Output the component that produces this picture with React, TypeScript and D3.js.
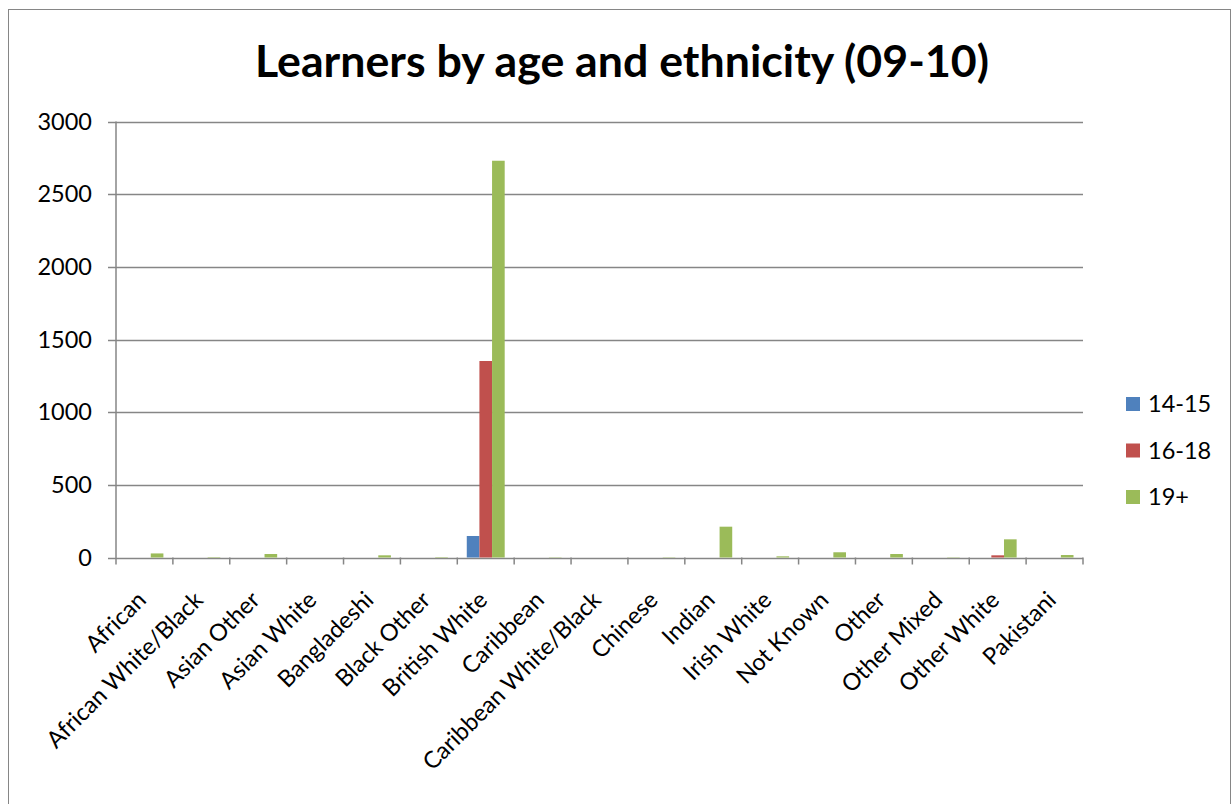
import React from "react";
import * as d3 from "d3";

const categories = [
  "African", "African White/Black", "Asian Other", "Asian White", "Bangladeshi",
  "Black Other", "British White", "Caribbean", "Caribbean White/Black", "Chinese",
  "Indian", "Irish White", "Not Known", "Other", "Other Mixed", "Other White", "Pakistani",
];
const seriesNames = ["14-15", "16-18", "19+"];
const age1415 = [0, 0, 0, 0, 0, 0, 148, 0, 0, 0, 0, 0, 0, 0, 0, 0, 0];
const age1618 = [0, 0, 0, 0, 0, 0, 1352, 0, 0, 0, 0, 0, 0, 0, 0, 15, 0];
const age19 = [28, 3, 24, 0, 15, 3, 2730, 2, 0, 2, 212, 8, 36, 24, 2, 125, 17];
const yTicks = [0, 500, 1000, 1500, 2000, 2500, 3000];
const colors = ["#4F81BD", "#C0504D", "#9BBB59"];

const W = 1231, H = 804;
const plot = { left: 116, right: 1083, top: 121.5, bottom: 557.5 };
const FONT = "Lato, 'Open Sans', sans-serif";

export default function App() {
  const seriesData = [age1415, age1618, age19];
  const x = d3.scaleBand<string>().domain(categories).range([plot.left, plot.right]).paddingInner(0).paddingOuter(0);
  const y = d3.scaleLinear().domain([0, 3000]).range([plot.bottom, plot.top]);
  const step = x.bandwidth();
  const barW = step / 4.5;
  const gap = (step - barW * 3) / 2;

  return (
    <svg width={W} height={H} style={{ position: "absolute", left: 0, top: 0 }}>
      <rect x={0} y={0} width={W} height={H} fill="#fff" />
      <rect x={8.5} y={9.5} width={W - 9} height={H} fill="none" stroke="#868686" strokeWidth={1} />
      <text x={622} y={77} textAnchor="middle" fontFamily={FONT} fontWeight="bold" fontSize={43} textLength={734} lengthAdjust="spacingAndGlyphs" fill="#000">
        Learners by age and ethnicity (09-10)
      </text>
      {yTicks.map((t) => (
        <g key={t}>
          <line x1={plot.left - 8} x2={plot.right} y1={Math.round(y(t)) + 0.5} y2={Math.round(y(t)) + 0.5} stroke="#868686" strokeWidth={1.5} />
          <text x={92} y={y(t) + 8} textAnchor="end" fontFamily={FONT} fontSize={23.5} fill="#000">{t}</text>
        </g>
      ))}
      <line x1={plot.left} x2={plot.left} y1={plot.top} y2={plot.bottom + 7} stroke="#868686" strokeWidth={1.5} />
      {categories.map((c, i) => (
        <line key={"t" + i} x1={x(c)! + step} x2={x(c)! + step} y1={plot.bottom} y2={plot.bottom + 7} stroke="#868686" strokeWidth={1.5} />
      ))}
      {seriesData.map((vals, s) =>
        vals.map((v, i) => {
          if (v <= 0) return null;
          const bx = x(categories[i])! + gap + s * barW;
          return (
            <rect key={s + "-" + i} x={bx} y={y(v)} width={barW} height={plot.bottom - y(v)} fill={colors[s]} />
          );
        })
      )}
      {categories.map((c, i) => {
        const cx = x(c)! + step / 2 + 3;
        const cy = plot.bottom + 44;
        return (
          <text key={"l" + i} x={cx} y={cy} transform={`rotate(-45 ${cx} ${cy})`} textAnchor="end" fontFamily={FONT} fontSize={23.5} fill="#000">
            {c}
          </text>
        );
      })}
      {seriesNames.map((n, i) => (
        <g key={n}>
          <rect x={1126} y={397 + i * 46.5} width={14} height={14} fill={colors[i]} />
          <text x={1148} y={412 + i * 46.5} fontFamily={FONT} fontSize={23.5} fill="#000">{n}</text>
        </g>
      ))}
    </svg>
  );
}
